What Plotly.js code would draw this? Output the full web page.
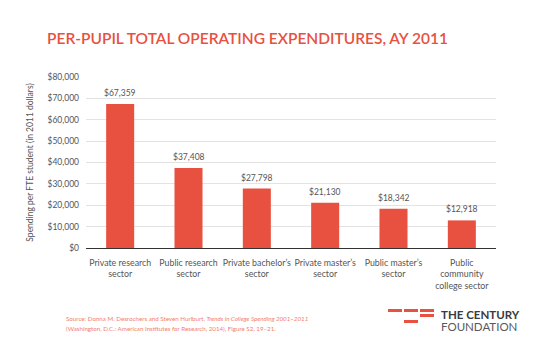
<!DOCTYPE html>
<html><head><meta charset="utf-8">
<script src="https://cdn.plot.ly/plotly-3.0.1.min.js"></script>
<style>html,body{margin:0;padding:0;background:#fff}#c{width:550px;height:363px}</style>
</head><body><div id="c"></div>
<script>
var categories = ["Private research<br>sector","Public research<br>sector","Private bachelor’s<br>sector","Private master’s<br>sector","Public master’s<br>sector","Public<br>community<br>college sector"];
var spending = [67359, 37408, 27798, 21130, 18342, 12918];
var tickValues = [0,10000,20000,30000,40000,50000,60000,70000,80000];
var tickLabels = ["$0","$10,000","$20,000","$30,000","$40,000","$50,000","$60,000","$70,000","$80,000"];

var W=550,H=363,L=86,R=54,T=77,B=115;
var pw=W-L-R, ph=H-T-B;
function px(x){return (x-L)/pw;}
function py(y){return (H-B-y)/ph;}
var red='#E8503F';
var FONT='Lato, "Open Sans", sans-serif';

var shapes=[];
function dash(x0,x1,y0,y1){shapes.push({type:'rect',xref:'paper',yref:'paper',x0:px(x0),x1:px(x1),y0:py(y1),y1:py(y0),fillcolor:red,line:{width:0},layer:'above'});}
dash(388,402,309,312);dash(404,418,309,312);dash(420,434,309,312);
dash(420,434,314,317);dash(404,418,320,323);

var data=[{type:'bar',x:categories,y:spending,marker:{color:red,line:{width:0}},width:0.41,hoverinfo:'skip'}];

var annotations=spending.map(function(v,i){
  return {x:categories[i],y:v,xref:'x',yref:'y',yshift:11,yanchor:'middle',showarrow:false,
    text:'$'+v.toLocaleString('en-US'),font:{family:FONT,size:8.5,color:'#555'}};
});
annotations=annotations.concat([
    {xref:'paper',yref:'paper',x:px(64),y:py(318),xanchor:'left',yanchor:'middle',showarrow:false,align:'left',
     text:'Source: Donna M. Desrochers and Steven Hurlburt, <i>Trends in College Spending 2001–2011</i>',font:{family:FONT,size:6.2,color:'#F27D6B'}},
    {xref:'paper',yref:'paper',x:px(64),y:py(328),xanchor:'left',yanchor:'middle',showarrow:false,align:'left',
     text:'(Washington, D.C.: American Institutes for Research, 2014), Figure S2, 19–21.',font:{family:FONT,size:6.2,color:'#F27D6B'}},
    {xref:'paper',yref:'paper',x:px(439),y:py(314),xanchor:'left',yanchor:'middle',showarrow:false,
     text:'<b>THE CENTURY</b>',font:{family:FONT,size:11.5,color:'#3a3a42'}},
    {xref:'paper',yref:'paper',x:px(439),y:py(326),xanchor:'left',yanchor:'middle',showarrow:false,
     text:'FOUNDATION',font:{family:FONT,size:11.5,color:'#58585e'}}
]);

var layout={width:W,height:H,margin:{l:L,r:R,t:T,b:B,pad:0},paper_bgcolor:'#fff',plot_bgcolor:'#fff',
  showlegend:false,bargap:0.59,
  font:{family:FONT,color:'#555'},
  title:{text:'PER-PUPIL TOTAL OPERATING EXPENDITURES, AY 2011',font:{family:FONT,size:15.5,color:red,weight:600},x:47/W,xanchor:'left',y:1-39/H,yanchor:'middle'},
  xaxis:{tickfont:{family:FONT,size:8.8,color:'#555'},showline:true,linecolor:'#333',linewidth:1.2,ticks:'',showgrid:false,fixedrange:true,ticklabelstandoff:6},
  yaxis:{range:[0,80000],tickvals:tickValues,ticktext:tickLabels,tickfont:{family:FONT,size:8.5,color:'#555'},
    gridcolor:'#e3e3e3',gridwidth:1,zeroline:false,ticks:'',ticklabelstandoff:6,
    title:{text:'Spending per FTE student (in 2011 dollars)',font:{family:FONT,size:8.5,color:'#555'},standoff:12}},
  shapes:shapes,
  annotations:annotations};
Plotly.newPlot('c',data,layout,{displayModeBar:false,staticPlot:true});
</script></body></html>
